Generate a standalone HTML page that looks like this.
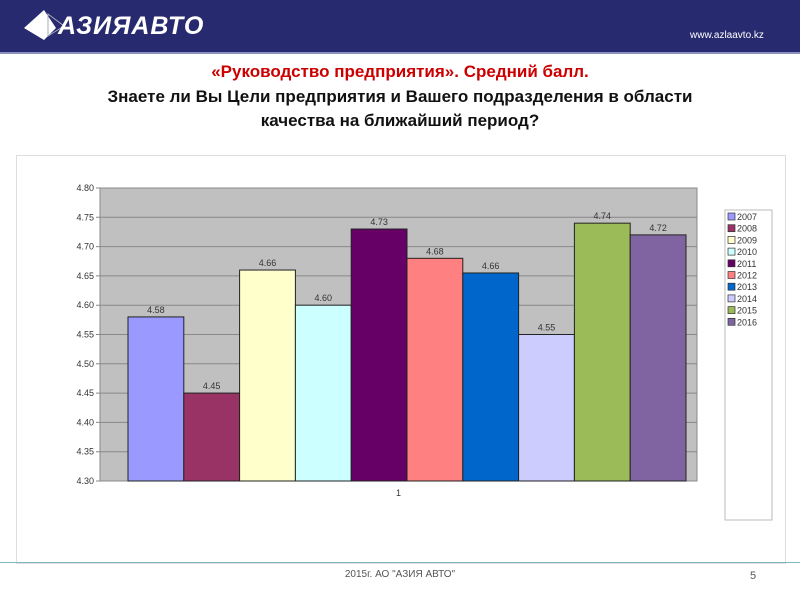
<!DOCTYPE html>
<html><head><meta charset="utf-8"><style>
body{margin:0;width:800px;height:600px;background:#fff;font-family:"Liberation Sans",sans-serif;overflow:hidden;position:relative}
.hdr{position:absolute;left:0;top:0;width:800px;height:52px;background:#272a6e;border-bottom:2px solid #8a8fc0}
.t{position:absolute;left:0;width:800px;text-align:center;font-weight:bold;font-size:17px;line-height:24px}
</style></head><body>
<div class="hdr">
<svg width="60" height="40" style="position:absolute;left:20px;top:6px"><polygon points="24,4 4,22 24,34 36,22" fill="#fff"/><polygon points="28,8 44,20 28,30" fill="none" stroke="#aab" stroke-width="1"/></svg>
<div style="position:absolute;left:58px;top:12px;color:#fff;font-size:25px;font-weight:bold;font-style:italic;letter-spacing:1px">АЗИЯАВТО</div>
<div style="position:absolute;left:690px;top:30px;color:#fff;font-size:10px">www.azlaavto.kz</div>
</div>
<div class="t" style="top:60px;color:#cc0000">«Руководство предприятия». Средний балл.</div>
<div class="t" style="top:85px;color:#111">Знаете ли Вы Цели предприятия и Вашего подразделения в области<br>качества на ближайший период?</div>
<div style="position:absolute;left:16px;top:155px;width:768px;height:407px;border:1px solid #ddd"></div>
<div style="position:absolute;left:0;top:562px;width:800px;height:1px;background:#7fb8c0"></div>
<div style="position:absolute;left:0;top:569px;width:800px;text-align:center;font-size:10px;color:#555">2015г. АО "АЗИЯ АВТО"</div>
<div style="position:absolute;left:750px;top:570px;font-size:11px;color:#555">5</div>
<svg id="c" width="800" height="600" style="position:absolute;left:0;top:0"></svg>
<script>
const categories=["2007","2008","2009","2010","2011","2012","2013","2014","2015","2016"];
const values=[4.58,4.45,4.66,4.60,4.73,4.68,4.655,4.55,4.74,4.72];
const labels=["4.58","4.45","4.66","4.60","4.73","4.68","4.66","4.55","4.74","4.72"];
const colors=["#9999ff","#993366","#ffffcc","#ccffff","#660066","#ff8080","#0066cc","#ccccff","#9bbb59","#8064a2"];
const ticks=[4.30,4.35,4.40,4.45,4.50,4.55,4.60,4.65,4.70,4.75,4.80];
const svg=document.getElementById('c'),NS="http://www.w3.org/2000/svg";
const X0=100,X1=697,Y0=481,Y1=188,vmin=4.30,vmax=4.80;
const y=v=>Y0-(v-vmin)/(vmax-vmin)*(Y0-Y1);
const bx0=128,bw=(686-128)/categories.length;
const x=i=>bx0+i*bw;
function mk(t,a){const e=document.createElementNS(NS,t);for(const k in a)e.setAttribute(k,a[k]);svg.appendChild(e);return e;}
let p=mk('rect',{x:X0,y:Y1,width:X1-X0,height:Y0-Y1,fill:"#c0c0c0",stroke:"#888"});


ticks.forEach(t=>{
 let l=mk('line',{x1:X0-4,x2:X1,y1:y(t),y2:y(t),stroke:"#888","stroke-width":1});
 
 
 let tx=mk('text',{x:X0-6,y:y(t)+3,"text-anchor":"end","font-size":9,fill:"#333","font-family":"Liberation Sans"});
 tx.textContent=t.toFixed(2);
 
 
});
values.forEach((v,i)=>{
 let r=mk('rect',{x:x(i),y:y(v),width:bw,height:Y0-y(v),fill:colors[i],stroke:"#222","stroke-width":1});
 
 
 let t=mk('text',{x:x(i)+bw/2,y:y(v)-4,"text-anchor":"middle","font-size":9,fill:"#333","font-family":"Liberation Sans"});
 t.textContent=labels[i];
 
 
});
let xl=mk('text',{x:(X0+X1)/2,y:496,"text-anchor":"middle","font-size":9,fill:"#333","font-family":"Liberation Sans"});
xl.textContent="1";


let lg=mk('rect',{x:725,y:210,width:47,height:310,fill:"#fff",stroke:"#bbb"});


categories.forEach((c,i)=>{
 const yy=213+i*11.7;
 let s=mk('rect',{x:728,y:yy,width:7,height:7,fill:colors[i],stroke:"#333","stroke-width":0.7});
 
 
 let t=mk('text',{x:737,y:yy+7,"font-size":9,fill:"#333","font-family":"Liberation Sans"});
 t.textContent=c;
 
 
});
</script>
</body></html>
